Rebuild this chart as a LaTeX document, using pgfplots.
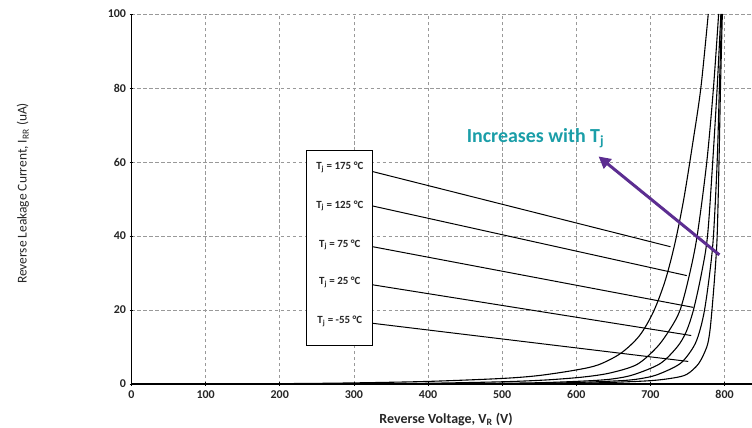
\documentclass[border=0pt]{standalone}
\usepackage{fontspec}
\setmainfont{Carlito}
\usepackage{pgfplots}
\pgfplotsset{compat=1.18}
\usetikzlibrary{arrows.meta}
\definecolor{arrowpurple}{RGB}{92,45,145}
\definecolor{tealtext}{RGB}{27,158,168}
\begin{document}
\begin{tikzpicture}
\path[use as bounding box] (0,0) rectangle (752bp,428bp);
\begin{axis}[
  at={(131.5bp,44bp)}, anchor=south west,
  scale only axis, width=620.5bp, height=370bp,
  xmin=0, xmax=837, ymin=0, ymax=100,
  axis x line=bottom, axis y line=left,
  axis line style={-, line width=1.3pt, black},
  xtick={0,100,...,800}, ytick={0,20,...,100},
  grid=major,
  major grid style={gray!80, line width=0.8pt, dash pattern=on 3.5pt off 2.5pt},
  tick style={black, line width=0.8pt}, tick align=center, major tick length=4pt,
  ticklabel style={font=\bfseries\fontsize{12}{13}\selectfont, text=black!85},
  xticklabel style={yshift=-1pt},
  /pgf/number format/assume math mode=true,
  xlabel={\bfseries Reverse Voltage, V\textsubscript{R} (V)},
  xlabel style={at={(axis description cs:0.507,-0.095)}, anchor=center, font=\fontsize{14}{16}\selectfont, text=black!85},
  ylabel={Reverse Leakage Current, I\textsubscript{RR} (uA)},
  ylabel style={at={(axis description cs:-0.175,0.515)}, anchor=center, font=\fontsize{13.5}{15}\selectfont, text=black!85},
  every axis plot/.append style={black, line width=1.1pt, no marks},
]
% T_j = 175 C
\addplot[smooth, tension=0.5] coordinates {(0,0)(200,0.1)(300,0.3)(400,0.7)(500,1.5)(550,2.3)(600,3.8)(630,5.2)(660,8.3)(685,13)(704,19.5)(720,28)(733,38)(745,50)(757,65)(768,80)(778,100)};
% T_j = 125 C
\addplot[smooth, tension=0.5] coordinates {(0,0)(300,0.05)(400,0.2)(500,0.6)(560,1.1)(610,1.9)(646,3.0)(682,5.3)(709,10)(727,15)(740,20)(752,29)(763,40)(776,60)(785,80)(792,100)};
% T_j = 75 C
\addplot[smooth, tension=0.5] coordinates {(0,0)(400,0.05)(500,0.2)(560,0.4)(620,0.9)(650,1.4)(677,2.5)(713,5.5)(736,10)(748,14)(758,20)(769,30)(777,40)(784,60)(790,80)(795,100)};
% T_j = 25 C
\addplot[smooth, tension=0.5] coordinates {(0,0)(450,0.05)(550,0.2)(600,0.4)(660,0.9)(685,1.4)(709,2.5)(740,5.5)(758,10)(766,14)(773,20)(780,30)(785,40)(790,60)(793,80)(796,100)};
% T_j = -55 C
\addplot[smooth, tension=0.5] coordinates {(0,0)(500,0.05)(600,0.2)(650,0.45)(700,0.9)(730,1.6)(749,2.6)(765,5.5)(776,10)(780,14)(783,20)(787,30)(790,40)(792.5,60)(794.5,80)(797,100)};
% callout lines
\addplot[line width=1pt] coordinates {(325.5,57.4)(727,37.1)};
\addplot[line width=1pt] coordinates {(325.5,48.1)(749,29.3)};
\addplot[line width=1pt] coordinates {(325.5,37.1)(758,20.7)};
\addplot[line width=1pt] coordinates {(325.5,26.8)(755,13.1)};
\addplot[line width=1pt] coordinates {(325.5,16.4)(751,6.1)};
\draw[fill=white, line width=1pt] (axis cs:236,10.5) rectangle (axis cs:325.5,63);
\begin{scope}[every node/.style={font=\bfseries\fontsize{11}{12}\selectfont, text=black!85}]
\node at (axis cs:281,58.5) {T\textsubscript{j} = 175 °C};
\node at (axis cs:281,48.1) {T\textsubscript{j} = 125 °C};
\node at (axis cs:281,37.6) {T\textsubscript{j} = 75 °C};
\node at (axis cs:281,27.4) {T\textsubscript{j} = 25 °C};
\node at (axis cs:281,17.0) {T\textsubscript{j} = -55 °C};
\end{scope}
\draw[arrowpurple, line width=3pt, -{Triangle[length=12pt,width=12pt]}] (axis cs:793,34.9) -- (axis cs:630,61.5);
\node[text=tealtext, font=\bfseries\fontsize{20}{22}\selectfont] at (axis cs:545,66.5) {Increases with T\textsubscript{j}};
\end{axis}
\end{tikzpicture}
\end{document}
